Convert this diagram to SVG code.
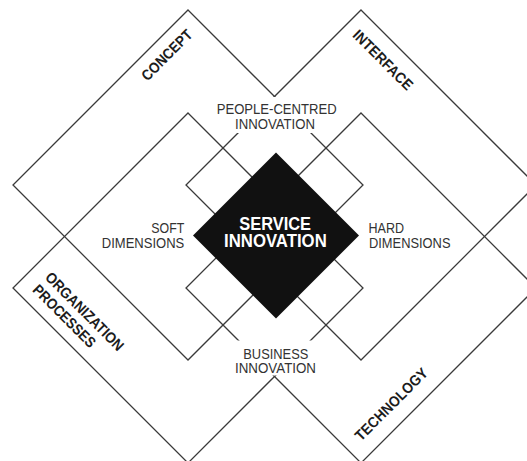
<svg xmlns="http://www.w3.org/2000/svg" width="527" height="461" viewBox="0 0 527 461">
  <style>
    .arm-shape { fill: none; stroke: #3a3a3a; stroke-width: 1.3; }
    .core-shape { fill: #111111; stroke: none; }
    .backing { fill: #ffffff; stroke: none; }
    .lbl { font-family: "Liberation Sans", Arial, Helvetica, sans-serif; font-size: 14.5px; fill: #333333; }
    .arm-lbl { font-family: "Liberation Sans", Arial, Helvetica, sans-serif; font-size: 15px; font-weight: bold; fill: #1c1c1c; }
    .core-lbl { font-family: "Liberation Sans", Arial, Helvetica, sans-serif; font-size: 18px; font-weight: bold; fill: #ffffff; }
  </style>

  <!-- four overlapping square fields, each turned 45 degrees -->
  <g id="concept">
    <polygon class="arm-shape" points="188,10 363,185 188,360 13,185"/>
    <text class="arm-lbl" text-anchor="middle" textLength="65" lengthAdjust="spacingAndGlyphs" transform="translate(170.4,58.7) rotate(-45)">CONCEPT</text>
  </g>
  <g id="interface">
    <polygon class="arm-shape" points="361,10 536,185 361,360 186,185"/>
    <text class="arm-lbl" text-anchor="middle" textLength="78" lengthAdjust="spacingAndGlyphs" transform="translate(379.3,63.7) rotate(45)">INTERFACE</text>
  </g>
  <g id="organization-processes">
    <polygon class="arm-shape" points="188,113 363,288 188,463 13,288"/>
    <text class="arm-lbl" textLength="104" lengthAdjust="spacingAndGlyphs" transform="translate(44.2,278.3) rotate(45)">ORGANIZATION</text>
    <text class="arm-lbl" textLength="82" lengthAdjust="spacingAndGlyphs" transform="translate(31.7,290.7) rotate(45)">PROCESSES</text>
  </g>
  <g id="technology">
    <polygon class="arm-shape" points="361,113 536,288 361,463 186,288"/>
    <text class="arm-lbl" text-anchor="middle" textLength="96" lengthAdjust="spacingAndGlyphs" transform="translate(395,407.9) rotate(-45)">TECHNOLOGY</text>
  </g>

  <!-- central core -->
  <g id="service-innovation">
    <polygon class="core-shape" points="276,152.5 359,235.5 276,318.5 193,235.5"/>
    <text class="core-lbl" x="275.2" y="230" text-anchor="middle" textLength="71.7" lengthAdjust="spacingAndGlyphs">SERVICE</text>
    <text class="core-lbl" x="275.4" y="246.7" text-anchor="middle" textLength="102.7" lengthAdjust="spacingAndGlyphs">INNOVATION</text>
  </g>

  <!-- dimension labels around the core -->
  <g id="people-centred">
    <rect class="backing" x="212" y="97" width="128" height="36"/>
    <text class="lbl" x="276.7" y="113.5" text-anchor="middle" textLength="120" lengthAdjust="spacingAndGlyphs">PEOPLE-CENTRED</text>
    <text class="lbl" x="275" y="129" text-anchor="middle" textLength="80" lengthAdjust="spacingAndGlyphs">INNOVATION</text>
  </g>
  <g id="business">
    <rect class="backing" x="233" y="340.5" width="85" height="35"/>
    <text class="lbl" x="275.8" y="358.5" text-anchor="middle" textLength="65" lengthAdjust="spacingAndGlyphs">BUSINESS</text>
    <text class="lbl" x="275.5" y="372.5" text-anchor="middle" textLength="81" lengthAdjust="spacingAndGlyphs">INNOVATION</text>
  </g>
  <g id="soft-dimensions">
    <text class="lbl" x="184.3" y="233" text-anchor="end" textLength="33" lengthAdjust="spacingAndGlyphs">SOFT</text>
    <text class="lbl" x="184.3" y="248.3" text-anchor="end" textLength="82.5" lengthAdjust="spacingAndGlyphs">DIMENSIONS</text>
  </g>
  <g id="hard-dimensions">
    <text class="lbl" x="368.5" y="233" textLength="35.5" lengthAdjust="spacingAndGlyphs">HARD</text>
    <text class="lbl" x="369" y="248.3" textLength="81.5" lengthAdjust="spacingAndGlyphs">DIMENSIONS</text>
  </g>
</svg>
